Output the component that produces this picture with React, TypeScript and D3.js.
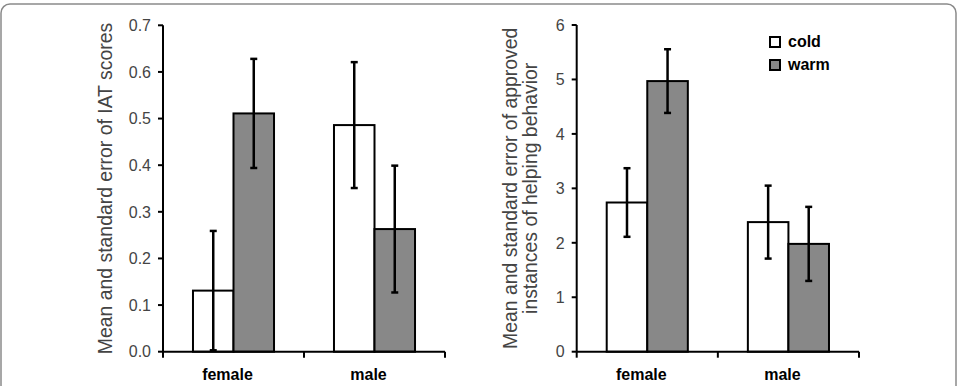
import React from "react";
import * as d3 from "d3";

// groups on the x axis and the two conditions
const groups = ["female", "male"];
const conditions = ["cold", "warm"];

// IAT scores: mean and standard error per group
const iatCold = [0.131, 0.486];
const iatWarm = [0.511, 0.263];
const iatColdSE = [0.128, 0.135];
const iatWarmSE = [0.117, 0.136];
const iatTicks = [0, 0.1, 0.2, 0.3, 0.4, 0.5, 0.6, 0.7];

// approved instances of helping behaviour
const helpCold = [2.74, 2.38];
const helpWarm = [4.97, 1.98];
const helpColdSE = [0.63, 0.67];
const helpWarmSE = [0.585, 0.68];
const helpTicks = [0, 1, 2, 3, 4, 5, 6];

const FONT = "'Liberation Sans', Arial, Helvetica, sans-serif";
const FILLS: Record<string, string> = { cold: "#ffffff", warm: "#888888" };

type PanelProps = {
  left: number;
  right: number;
  top: number;
  bottom: number;
  ticks: number[];
  fmt: (v: number) => string;
  cold: number[];
  warm: number[];
  coldSE: number[];
  warmSE: number[];
  titleLines: string[];
  titleX: number;
};

function Panel(p: PanelProps) {
  const y = d3
    .scaleLinear()
    .domain([0, d3.max(p.ticks) as number])
    .range([p.bottom, p.top]);
  const x = d3.scaleBand().domain(groups).range([p.left, p.right]).padding(0);
  const inner = d3
    .scaleBand()
    .domain(conditions)
    .range([0, x.bandwidth()])
    .paddingInner(0)
    .paddingOuter(0.74);

  const rows = groups.flatMap((g, i) => [
    { g, c: "cold", v: p.cold[i], se: p.coldSE[i] },
    { g, c: "warm", v: p.warm[i], se: p.warmSE[i] },
  ]);
  const midY = (p.top + p.bottom) / 2;
  const lineGap = 20.5;

  return (
    <g>
      {/* bars */}
      {rows.map((d) => (
        <rect
          key={d.g + d.c}
          x={(x(d.g) as number) + (inner(d.c) as number)}
          y={y(d.v)}
          width={inner.bandwidth()}
          height={y(0) - y(d.v)}
          fill={FILLS[d.c]}
          stroke="#000"
          strokeWidth={2}
        />
      ))}
      {/* error bars */}
      {rows.map((d) => {
        const cx = (x(d.g) as number) + (inner(d.c) as number) + inner.bandwidth() / 2;
        const y1 = y(Math.max(0, d.v - d.se));
        const y2 = y(d.v + d.se);
        return (
          <g key={"e" + d.g + d.c} stroke="#000" strokeWidth={2.5}>
            <line x1={cx} x2={cx} y1={y1} y2={y2} />
            <line x1={cx - 3.5} x2={cx + 3.5} y1={y1} y2={y1} />
            <line x1={cx - 3.5} x2={cx + 3.5} y1={y2} y2={y2} />
          </g>
        );
      })}
      {/* y axis */}
      <line x1={p.left} x2={p.left} y1={p.top} y2={p.bottom} stroke="#000" strokeWidth={2} />
      {p.ticks.map((t) => (
        <g key={t}>
          <line x1={p.left - 5} x2={p.left} y1={y(t)} y2={y(t)} stroke="#000" strokeWidth={2} />
          <text
            x={p.left - 12}
            y={y(t)}
            dy="0.36em"
            textAnchor="end"
            fontFamily={FONT}
            fontSize={16}
            fill="#444"
          >
            {p.fmt(t)}
          </text>
        </g>
      ))}
      {/* x axis */}
      <line x1={p.left} x2={p.right} y1={p.bottom} y2={p.bottom} stroke="#000" strokeWidth={2} />
      {[p.left, p.left + x.step(), p.right].map((tx) => (
        <line key={tx} x1={tx} x2={tx} y1={p.bottom} y2={p.bottom + 6} stroke="#000" strokeWidth={2} />
      ))}
      {groups.map((g) => (
        <text
          key={g}
          x={(x(g) as number) + x.bandwidth() / 2 - 6}
          y={p.bottom + 28}
          textAnchor="middle"
          fontFamily={FONT}
          fontSize={16}
          fontWeight="bold"
          fill="#000"
        >
          {g}
        </text>
      ))}
      {/* axis title */}
      <text
        transform={`translate(${p.titleX},${midY}) rotate(-90)`}
        textAnchor="middle"
        fontFamily={FONT}
        fontSize={19.4}
        fill="#444"
      >
        {p.titleLines.map((l, i) => (
          <tspan key={i} x={0} y={i * lineGap}>
            {l}
          </tspan>
        ))}
      </text>
    </g>
  );
}

export default function App() {
  return (
    <svg
      width={961}
      height={386}
      style={{ position: "absolute", left: 0, top: 0, background: "#fff" }}
    >
      <rect x={1} y={4} width={955} height={420} rx={9} fill="#fff" stroke="#8a8a8a" strokeWidth={1.5} />
      <Panel
        left={163}
        right={445}
        top={25.3}
        bottom={351.7}
        ticks={iatTicks}
        fmt={d3.format(".1f")}
        cold={iatCold}
        warm={iatWarm}
        coldSE={iatColdSE}
        warmSE={iatWarmSE}
        titleLines={["Mean and standard error of IAT scores"]}
        titleX={112}
      />
      <Panel
        left={576.7}
        right={859}
        top={25}
        bottom={351.7}
        ticks={helpTicks}
        fmt={d3.format("d")}
        cold={helpCold}
        warm={helpWarm}
        coldSE={helpColdSE}
        warmSE={helpWarmSE}
        titleLines={["Mean and standard error of approved", "instances of helping behavior"]}
        titleX={516.5}
      />
      {/* legend */}
      {conditions.map((c, i) => (
        <g key={c} transform={`translate(770,${37 + i * 23})`}>
          <rect x={0} y={0} width={10} height={10} fill={FILLS[c]} stroke="#000" strokeWidth={2} />
          <text x={18} y={9.5} fontFamily={FONT} fontSize={16} fontWeight="bold" fill="#000">
            {c}
          </text>
        </g>
      ))}
    </svg>
  );
}
